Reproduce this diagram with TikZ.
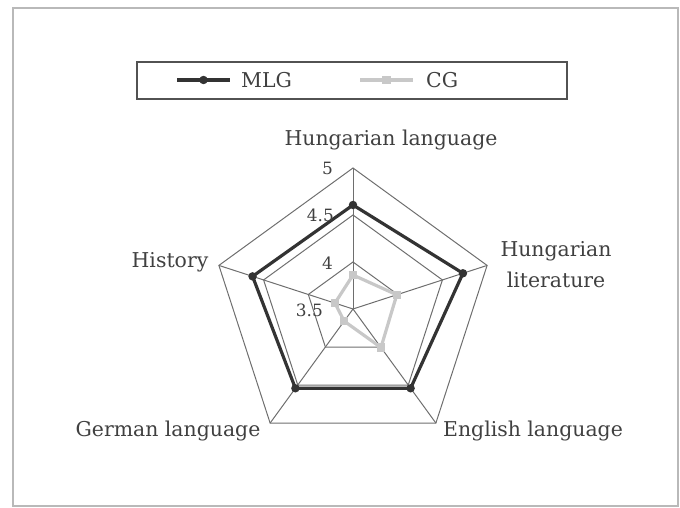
\documentclass[tikz,border=0pt]{standalone}
\usepackage{fontspec}
\setmainfont{DejaVu Serif}
\definecolor{mlg}{HTML}{333333}
\definecolor{cg}{HTML}{C8C8C8}
\definecolor{gridgray}{HTML}{6E6E6E}
\tikzset{
	axislabel/.style={font=\fontsize{20.5}{31}\selectfont, text=black!75, align=center, inner sep=0pt},
	ticklabel/.style={font=\fontsize{17}{19}\selectfont, text=black!75, anchor=east, inner sep=1pt},
	gridline/.style={draw=gridgray, line width=1pt},
	mlgline/.style={draw=mlg, line width=3.2pt, line join=round},
	cgline/.style={draw=cg, line width=3.2pt, line join=round},
	mlgmark/.style={circle, fill=mlg, inner sep=0pt, minimum size=8.5pt},
	cgmark/.style={rectangle, fill=cg, inner sep=0pt, minimum size=8.5pt},
}
\begin{document}
\begin{tikzpicture}[x=1bp,y=1bp]
	\useasboundingbox (0,0) rectangle (680,508);
	\draw[gray!55, line width=1.2pt] (13,2) rectangle (678,500);
	% legend
	\node[draw=mlg!85, line width=1.3pt, minimum width=430bp, minimum height=37bp] (legend) at (352,427.5) {};
	\coordinate (mlgA) at (177,428);
	\coordinate (mlgB) at (230,428);
	\draw[mlgline] (mlgA) -- (mlgB);
	\node[mlgmark] (mlgkey) at (203.5,428) {};
	\node[axislabel, anchor=west] (mlgtext) at (241,428) {MLG};
	\coordinate (cgA) at (360,428);
	\coordinate (cgB) at (413,428);
	\draw[cgline] (cgA) -- (cgB);
	\node[cgmark] (cgkey) at (386.5,428) {};
	\node[axislabel, anchor=west] (cgtext) at (426,428) {CG};
	% radar
	\begin{scope}[shift={(353,199)}]
		\coordinate (O) at (0,0);
		\foreach \r in {47,94,141}
			\draw[gridline] (90:\r) -- (18:\r) -- (-54:\r) -- (-126:\r) -- (162:\r) -- cycle;
		\foreach \a/\n in {90/hl,18/lit,-54/en,-126/de,162/hi}{
			\coordinate (\n) at (\a:141);
			\draw[gridline] (O) -- (\n);
		}
		\draw[cgline] (90:34) -- (18:46) -- (-54:47.6) -- (-126:15) -- (162:19) -- cycle;
		\foreach \a/\r in {90/34,18/46,-54/47.6,-126/15,162/19}
			\node[cgmark] at (\a:\r) {};
		\draw[mlgline] (90:104) -- (18:115.6) -- (-54:98) -- (-126:98) -- (162:105.6) -- cycle;
		\foreach \a/\r in {90/104,18/115.6,-54/98,-126/98,162/105.6}
			\node[mlgmark] at (\a:\r) {};
	\end{scope}
	% scale
	\node[ticklabel] (t5) at (334,340) {5};
	\node[ticklabel] (t45) at (335,293) {4.5};
	\node[ticklabel] (t4) at (334,245) {4};
	\node[ticklabel] (t35) at (324,198) {3.5};
	% subjects
	\node[axislabel] (lhl) at (391,368) {Hungarian language};
	\node[axislabel] (llit) at (556,243) {Hungarian\\literature};
	\node[axislabel] (lhi) at (170,246) {History};
	\node[axislabel] (lde) at (168,77) {German language};
	\node[axislabel] (len) at (533,77) {English language};
\end{tikzpicture}
\end{document}
